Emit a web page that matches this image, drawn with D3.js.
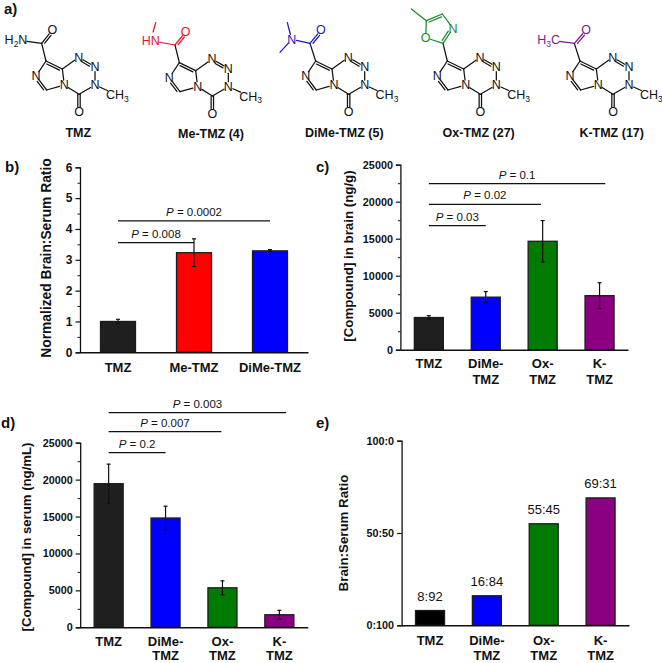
<!DOCTYPE html>
<html><head><meta charset="utf-8">
<script src="https://cdn.jsdelivr.net/npm/d3@7"></script>
<style>
html,body{margin:0;padding:0;background:#fff}
svg{display:block}
text{font-family:"Liberation Sans",Arial,sans-serif;fill:#111}
</style></head><body>
<svg id="fig" width="662" height="663"></svg>
<script>
// ---------- data ----------
const colorByCompound = {"TMZ":"#1f1f1f","Me-TMZ":"#ff0000","DiMe-TMZ":"#0000ff","Ox-TMZ":"#007a00","K-TMZ":"#8a0080"};
const categoriesB = ["TMZ","Me-TMZ","DiMe-TMZ"];
const valuesB = [1.0,3.23,3.29];
const errorsB = [0.07,0.45,0.04];
const bracketsB = [
  {to:"Me-TMZ",p:"0.008",v:3.56,over:0},
  {to:"DiMe-TMZ",p:"0.0002",v:4.26,over:0}];
const categoriesC = ["TMZ","DiMe-TMZ","Ox-TMZ","K-TMZ"];
const valuesC = [4350,7100,14650,7300];
const errorsC = [250,750,2800,1750];
const bracketsC = [
  {to:"DiMe-TMZ",p:"0.03",v:16760,over:0},
  {to:"Ox-TMZ",p:"0.02",v:19650,over:-0.03},
  {to:"K-TMZ",p:"0.1",v:22430,over:0.1}];
const valuesD = [19450,14800,5350,1700];
const errorsD = [2650,1600,950,600];
const bracketsD = [
  {to:"DiMe-TMZ",p:"0.2",v:23645,over:0},
  {to:"Ox-TMZ",p:"0.007",v:26490,over:-0.02},
  {to:"K-TMZ",p:"0.003",v:29060,over:0.12}];
const valuesE = [8,16,55,69];
const labelsE = ["8:92","16:84","55:45","69:31"];
const ticksE = [0,50,100];
const tickLabelsE = {0:"0:100",50:"50:50",100:"100:0"};

const svg = d3.select("#fig");

// ---------- bar panels ----------
function barPanel(o){
  const x = d3.scaleBand().domain(o.cats).range(o.xr).paddingInner(o.pad).paddingOuter(o.pad/2).align(.5);
  const y = d3.scaleLinear().domain(o.dom).range(o.yr);
  const g = svg.append("g");
  const bw = x.bandwidth();
  const cx = c=>x(c)+bw/2;

  g.selectAll("rect.bar").data(o.cats).join("rect")
    .attr("x",c=>x(c)).attr("width",bw)
    .attr("y",(c,i)=>y(o.vals[i])).attr("height",(c,i)=>y(0)-y(o.vals[i]))
    .attr("fill",c=>o.colors?o.colors[c]:colorByCompound[c])
    .attr("stroke","#1c1c1c").attr("stroke-width",1.3);

  if(o.errs){
    const e = g.append("g").attr("stroke","#111").attr("stroke-width",1.2);
    o.cats.forEach((c,i)=>{
      const hi=y(o.vals[i]+o.errs[i]), lo=y(o.vals[i]-o.errs[i]);
      e.append("line").attr("x1",cx(c)).attr("x2",cx(c)).attr("y1",hi).attr("y2",lo);
      [hi,lo].forEach(v=>e.append("line").attr("x1",cx(c)-2).attr("x2",cx(c)+2).attr("y1",v).attr("y2",v));
    });
  }
  if(o.labels){
    g.selectAll("text.val").data(o.cats).join("text").attr("class","val")
      .attr("x",c=>cx(c)).attr("y",(c,i)=>y(o.vals[i])-10)
      .attr("text-anchor","middle").attr("font-size",13).text((c,i)=>o.labels[i]);
  }
  (o.brackets||[]).forEach(b=>{
    const x1=cx(o.cats[0]), x2=cx(b.to)+b.over*x.step();
    g.append("line").attr("x1",x1).attr("x2",x2).attr("y1",y(b.v)).attr("y2",y(b.v))
      .attr("stroke","#111").attr("stroke-width",1.3);
    const t=g.append("text").attr("x",(x1+x2)/2).attr("y",y(b.v)-5).attr("text-anchor","middle").attr("font-size",11.5);
    t.append("tspan").attr("font-style","italic").text("P");
    t.append("tspan").text(" = "+b.p);
  });

  // y axis
  const ya = d3.axisLeft(y).tickValues(o.major).tickSize(4.5).tickPadding(3)
    .tickFormat(o.tickFmt||(d=>d));
  const yg = g.append("g").attr("transform",`translate(${o.xr[0]},0)`).call(ya);
  yg.select(".domain").attr("stroke","#111").attr("stroke-width",1.3);
  yg.selectAll(".tick line").attr("stroke","#111").attr("stroke-width",1.2);
  yg.selectAll(".tick text").attr("font-size",o.tickSize).attr("font-weight","bold").attr("font-family","Liberation Sans").attr("fill","#111");
  if(o.minor){
    const ym=d3.axisLeft(y).tickValues(o.minor).tickSize(2.5).tickFormat("");
    const mg=g.append("g").attr("transform",`translate(${o.xr[0]},0)`).call(ym);
    mg.select(".domain").remove();
    mg.selectAll(".tick line").attr("stroke","#111").attr("stroke-width",1);
  }
  // x axis
  const xa=d3.axisBottom(x).tickSize(0).tickPadding(0);
  const xg=g.append("g").attr("transform",`translate(0,${y(0)})`).call(xa);
  xg.select(".domain").attr("stroke","#111").attr("stroke-width",1.4);
  xg.selectAll(".tick text").each(function(c){
    const t=d3.select(this).text(null).attr("y",null).attr("dy",null)
      .attr("font-size",13).attr("font-weight","bold").attr("font-family","Liberation Sans").attr("fill","#111").attr("text-anchor","middle");
    const parts=o.wrap&&c.includes("-")?[c.slice(0,c.indexOf("-")+1),c.slice(c.indexOf("-")+1)]:[c];
    parts.forEach((p,i)=>t.append("tspan").attr("x",0).attr("y",o.xLab+i*o.xLine).text(p));
  });
  // y title
  g.append("text").attr("transform",`translate(${o.titleX},${o.titleY}) rotate(-90)`)
    .attr("text-anchor","middle").attr("font-size",o.titleSize).attr("font-weight","bold").text(o.title);
}

barPanel({cats:categoriesB,vals:valuesB,errs:errorsB,brackets:bracketsB,xr:[80,308],pad:.54,
  dom:[0,6],yr:[352.3,167.3],major:d3.range(0,7),minor:d3.range(0.5,6,1),tickSize:12,
  xLab:19.8,xLine:15,title:"Normalized Brain:Serum Ratio",titleX:50.5,titleY:258,titleSize:13.8});
barPanel({cats:categoriesC,vals:valuesC,errs:errorsC,brackets:bracketsC,xr:[400.4,628],pad:.49,
  dom:[0,25000],yr:[349.7,164.7],major:d3.range(0,25001,5000),minor:d3.range(2500,25000,5000),tickSize:10.8,
  xLab:18.5,xLine:15.7,wrap:true,title:"[Compound] in brain (ng/g)",titleX:353,titleY:256,titleSize:13.3});
barPanel({cats:categoriesC,vals:valuesD,errs:errorsD,brackets:bracketsD,xr:[80.2,307.8],pad:.49,
  dom:[0,25000],yr:[627.3,442.7],major:d3.range(0,25001,5000),minor:d3.range(2500,25000,5000),tickSize:10.8,
  xLab:19,xLine:13.7,wrap:true,title:"[Compound] in serum (ng/mL)",titleX:31,titleY:537,titleSize:13.2});
barPanel({cats:categoriesC,vals:valuesE,labels:labelsE,xr:[401.6,629],pad:.49,
  dom:[0,100],yr:[625.3,440.7],major:ticksE,tickFmt:d=>tickLabelsE[d],tickSize:10.8,
  colors:Object.assign({},colorByCompound,{"TMZ":"#000000"}),
  xLab:19.7,xLine:15,wrap:true,title:"Brain:Serum Ratio",titleX:348,titleY:533,titleSize:13.3});

// ---------- panel letters ----------
const panelLetters=[["a)",4,13.8],["b)",5,172],["c)",316,172],["d)",1,428],["e)",316,428]];
svg.selectAll("text.letter").data(panelLetters).join("text").attr("class","letter")
  .attr("x",d=>d[1]).attr("y",d=>d[2]).attr("font-size",15).attr("font-weight","bold").text(d=>d[0]);

// ---------- molecules ---------- (atom positions are in drawing units, 3 units = 1 pixel)
const coreAtoms={a:[138,183],b:[187,207],c:[193,255,"N"],d:[140,270],e:[108,228,"N"],f:[236,172,"N"],g:[285,200,"N"],h:[285,255,"N"],i:[237,283],j:[237,336,"O"],k:[352,285,"CH|3"]};
const coreBonds=[["a","b",2,1],["b","c",1],["c","d",1],["d","e",2,-1],["e","a",1],["b","f",1],["f","g",2,1],["g","h",1],["h","i",1],["i","c",1],["i","j",2,0],["h","k",1]];
const molecules=[
 {name:"TMZ",dx:0,dy:0,lx:235,ly:411,color:"#111",
  atoms:{p:[125,130],q:[157,90,"O"],r:[48,120,"H|2|N"]},
  bonds:[["p","q",2,1],["p","r",1]],link:["a","p"]},
 {name:"Me-TMZ (4)",dx:400,dy:5,lx:633,ly:415,color:"#e8112d",
  atoms:{p:[125,130],q:[157,90,"O"],r:[52,117,"HN"],s:[67,63]},
  bonds:[["p","q",2,1],["p","r",1],["r","s",1]],link:["a","p"]},
 {name:"DiMe-TMZ (5)",dx:809,dy:0,lx:1033,ly:411,color:"#1a1ac4",
  atoms:{p:[121,130],q:[154,90,"O"],r:[66,118,"N"],s:[53,68],t:[31,157]},
  bonds:[["p","q",2,1],["p","r",1],["r","s",1],["r","t",1]],link:["a","p"]},
 {name:"Ox-TMZ (27)",dx:1204,dy:0,lx:1436,ly:411,color:"#1c8a2a",
  atoms:{p:[125,130],q:[155,85,"N"],r:[123,42],s:[75,62],t:[73,113,"O"],u:[30,27]},
  bonds:[["p","q",2,-1],["q","r",1],["r","s",2,-1],["s","t",1],["t","p",1],["s","u",1]],link:["a","p"]},
 {name:"K-TMZ (17)",dx:1602,dy:0,lx:1835,ly:411,color:"#7a1a8e",
  atoms:{p:[121,130],q:[156,90,"O"],r:[44,120,"H|3|C"]},
  bonds:[["p","q",2,1],["p","r",1]],link:["a","p"]}
];
const mx=d3.scaleLinear().domain([0,993]).range([0,331]);
const my=d3.scaleLinear().domain([0,495]).range([0,165]);

function clearance(lbl){
  if(!lbl) return 0;
  const n=lbl.replace(/\|/g,"").length;
  return n>2?11:(n>1?9:5);
}
function drawBond(g,A,B,order,side,color){
  let x1=mx(A[0]),y1=my(A[1]),x2=mx(B[0]),y2=my(B[1]);
  const L=Math.hypot(x2-x1,y2-y1),ux=(x2-x1)/L,uy=(y2-y1)/L;
  const ca=clearance(A[2]),cb=clearance(B[2]);
  x1+=ux*ca;y1+=uy*ca;x2-=ux*cb;y2-=uy*cb;
  const ln=(a,b,c,d)=>g.append("line").attr("x1",a).attr("y1",b).attr("x2",c).attr("y2",d)
    .attr("stroke",color).attr("stroke-width",1.25).attr("stroke-linecap","round");
  const nx=-uy,ny=ux;
  if(order===1){ln(x1,y1,x2,y2);return;}
  if(side===0){
    ln(x1+nx*1.2,y1+ny*1.2,x2+nx*1.2,y2+ny*1.2);
    ln(x1-nx*1.2,y1-ny*1.2,x2-nx*1.2,y2-ny*1.2);
  }else{
    ln(x1,y1,x2,y2);
    const o=2.3*side,s=(ca?0:2);
    ln(x1+nx*o+ux*s,y1+ny*o+uy*s,x2+nx*o-ux*(cb?0:2),y2+ny*o-uy*(cb?0:2));
  }
}
function drawLabel(g,A,color){
  if(!A[2]) return;
  const t=g.append("text").attr("x",mx(A[0])).attr("y",my(A[1])+4.3)
    .attr("text-anchor","middle").attr("font-size",12.5).style("fill",color);
  const parts=A[2].split("|");
  if(parts.length===1){t.text(parts[0]);return;}
  parts.forEach((p,i)=>{
    const ts=t.append("tspan").text(p);
    if(i%2===1) ts.attr("font-size",8.5).attr("dy",2.5);
    else if(i>1) ts.attr("dy",-2.5);
  });
}
molecules.forEach(m=>{
  const g=svg.append("g").attr("transform",`translate(${mx(m.dx)},${my(m.dy)})`);
  coreBonds.forEach(b=>drawBond(g,coreAtoms[b[0]],coreAtoms[b[1]],b[2],b[3],"#111"));
  Object.values(coreAtoms).forEach(A=>drawLabel(g,A,"#111"));
  drawBond(g,coreAtoms[m.link[0]],m.atoms[m.link[1]],1,0,"#111");
  m.bonds.forEach(b=>drawBond(g,m.atoms[b[0]],m.atoms[b[1]],b[2],b[3],m.color));
  Object.values(m.atoms).forEach(A=>drawLabel(g,A,m.color));
  svg.append("text").attr("x",mx(m.lx)).attr("y",my(m.ly)).attr("text-anchor","middle")
    .attr("font-size",12.5).attr("font-weight","bold").text(m.name);
});
</script>
</body></html>
